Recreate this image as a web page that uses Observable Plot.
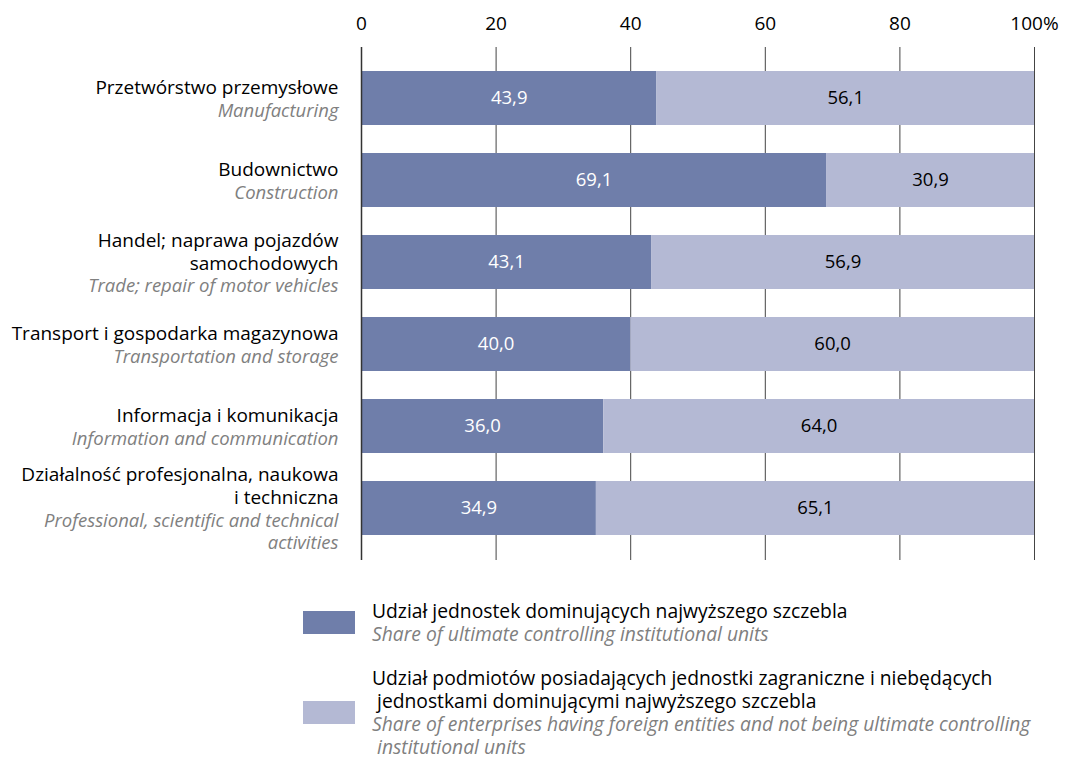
<!DOCTYPE html>
<html>
<head>
<meta charset="utf-8">
<script src="https://cdn.jsdelivr.net/npm/d3@7"></script>
<script src="https://cdn.jsdelivr.net/npm/@observablehq/plot@0.6"></script>
<style>
  body { margin: 0; background: #fff; font-family: "Open Sans", sans-serif; }
  #legend { padding-left: 303px; margin-top: 24px; font-size: 19.3px; line-height: 23px; }
  .item { display: flex; align-items: center; margin-bottom: 21px; }
  .sw { width: 52px; height: 23px; margin-right: 17px; flex: none; }
  .en { color: #808080; font-style: italic; }
</style>
</head>
<body>
<div id="chart"></div>
<div id="legend"></div>
<script>
const categoriesPl = [
  "Przetwórstwo przemysłowe",
  "Budownictwo",
  "Handel; naprawa pojazdów\nsamochodowych",
  "Transport i gospodarka magazynowa",
  "Informacja i komunikacja",
  "Działalność profesjonalna, naukowa\ni techniczna"
];
const categoriesEn = [
  "Manufacturing",
  "Construction",
  "Trade; repair of motor vehicles",
  "Transportation and storage",
  "Information and communication",
  "Professional, scientific and technical\nactivities"
];
const dominant = [43.9, 69.1, 43.1, 40.0, 36.0, 34.9];
const other = [56.1, 30.9, 56.9, 60.0, 64.0, 65.1];
const xTicks = [0, 20, 40, 60, 80, 100];
const seriesNames = ["dominant", "other"];
const seriesColors = ["#6f7eaa", "#b4b9d4"];
const legendPl = [
  "Udział jednostek dominujących najwyższego szczebla",
  "Udział podmiotów posiadających jednostki zagraniczne i niebędących\n jednostkami dominującymi najwyższego szczebla"
];
const legendEn = [
  "Share of ultimate controlling institutional units",
  "Share of enterprises having foreign entities and not being ultimate controlling\n institutional units"
];

const data = [];
categoriesPl.forEach((c, i) => {
  data.push({cat: c, series: "dominant", value: dominant[i]});
  data.push({cat: c, series: "other", value: other[i]});
});
const rows = categoriesPl.map((c, i) => ({cat: c, label: c + "\n" + categoriesEn[i], nPl: c.split("\n").length}));
const fmt = v => v.toFixed(1).replace(".", ",");
const FS = 18.5;
const FSPL = 19;

const chart = Plot.plot({
  width: 1070,
  height: 575,
  marginLeft: 361,
  marginRight: 36,
  marginTop: 47,
  marginBottom: 15,
  style: {fontFamily: "Open Sans, sans-serif", fontSize: FS + "px", color: "#000"},
  x: {domain: [0, 100], label: null},
  y: {domain: categoriesPl, padding: 0.337, paddingOuter: 0.26, axis: null},
  color: {domain: seriesNames, range: seriesColors},
  marks: [
    Plot.ruleX(xTicks, {stroke: "#444", strokeWidth: 1}),
    Plot.barX(data, Plot.stackX({x: "value", y: "cat", fill: "series", order: seriesNames})),
    Plot.ruleX([0], {stroke: "#333", strokeWidth: 1.5}),
    Plot.text(data, Plot.stackX({x: "value", y: "cat", z: "series", order: seriesNames,
      text: d => fmt(d.value), fill: d => d.series === "dominant" ? "#fff" : "#000", fontSize: FS})),
    Plot.axisX(xTicks, {anchor: "top", tickSize: 0, tickPadding: 18, fontSize: 19, label: null,
      tickFormat: d => d === 100 ? "100%" : String(d), fill: "#000"}),
    Plot.text(rows, {x: 0, y: "cat", text: "label", dx: -23, textAnchor: "end", lineAnchor: "middle",
      lineHeight: 23 / FSPL, fontSize: FSPL, fill: "#000"})
  ]
});
document.getElementById("chart").appendChild(chart);

// style English lines italic grey
const groups = chart.querySelectorAll('g[aria-label="text"]');
const g = groups[groups.length - 1];
if (g) {
  g.querySelectorAll("text").forEach((t, i) => {
    const n = rows[i].nPl;
    t.querySelectorAll("tspan").forEach((ts, j) => {
      if (j >= n) {
        ts.setAttribute("fill", "#808080");
        ts.setAttribute("font-style", "italic");
        ts.setAttribute("font-size", FS);
      }
    });
  });
}

const legend = document.getElementById("legend");
seriesNames.forEach((s, i) => {
  const item = document.createElement("div");
  item.className = "item";
  const sw = document.createElement("div");
  sw.className = "sw";
  sw.style.background = seriesColors[i];
  const txt = document.createElement("div");
  legendPl[i].split("\n").forEach(l => {
    const d = document.createElement("div"); d.textContent = l; d.style.whiteSpace = "pre"; txt.appendChild(d);
  });
  legendEn[i].split("\n").forEach(l => {
    const d = document.createElement("div"); d.textContent = l; d.className = "en"; d.style.whiteSpace = "pre"; txt.appendChild(d);
  });
  item.appendChild(sw); item.appendChild(txt);
  legend.appendChild(item);
});
</script>
</body>
</html>
